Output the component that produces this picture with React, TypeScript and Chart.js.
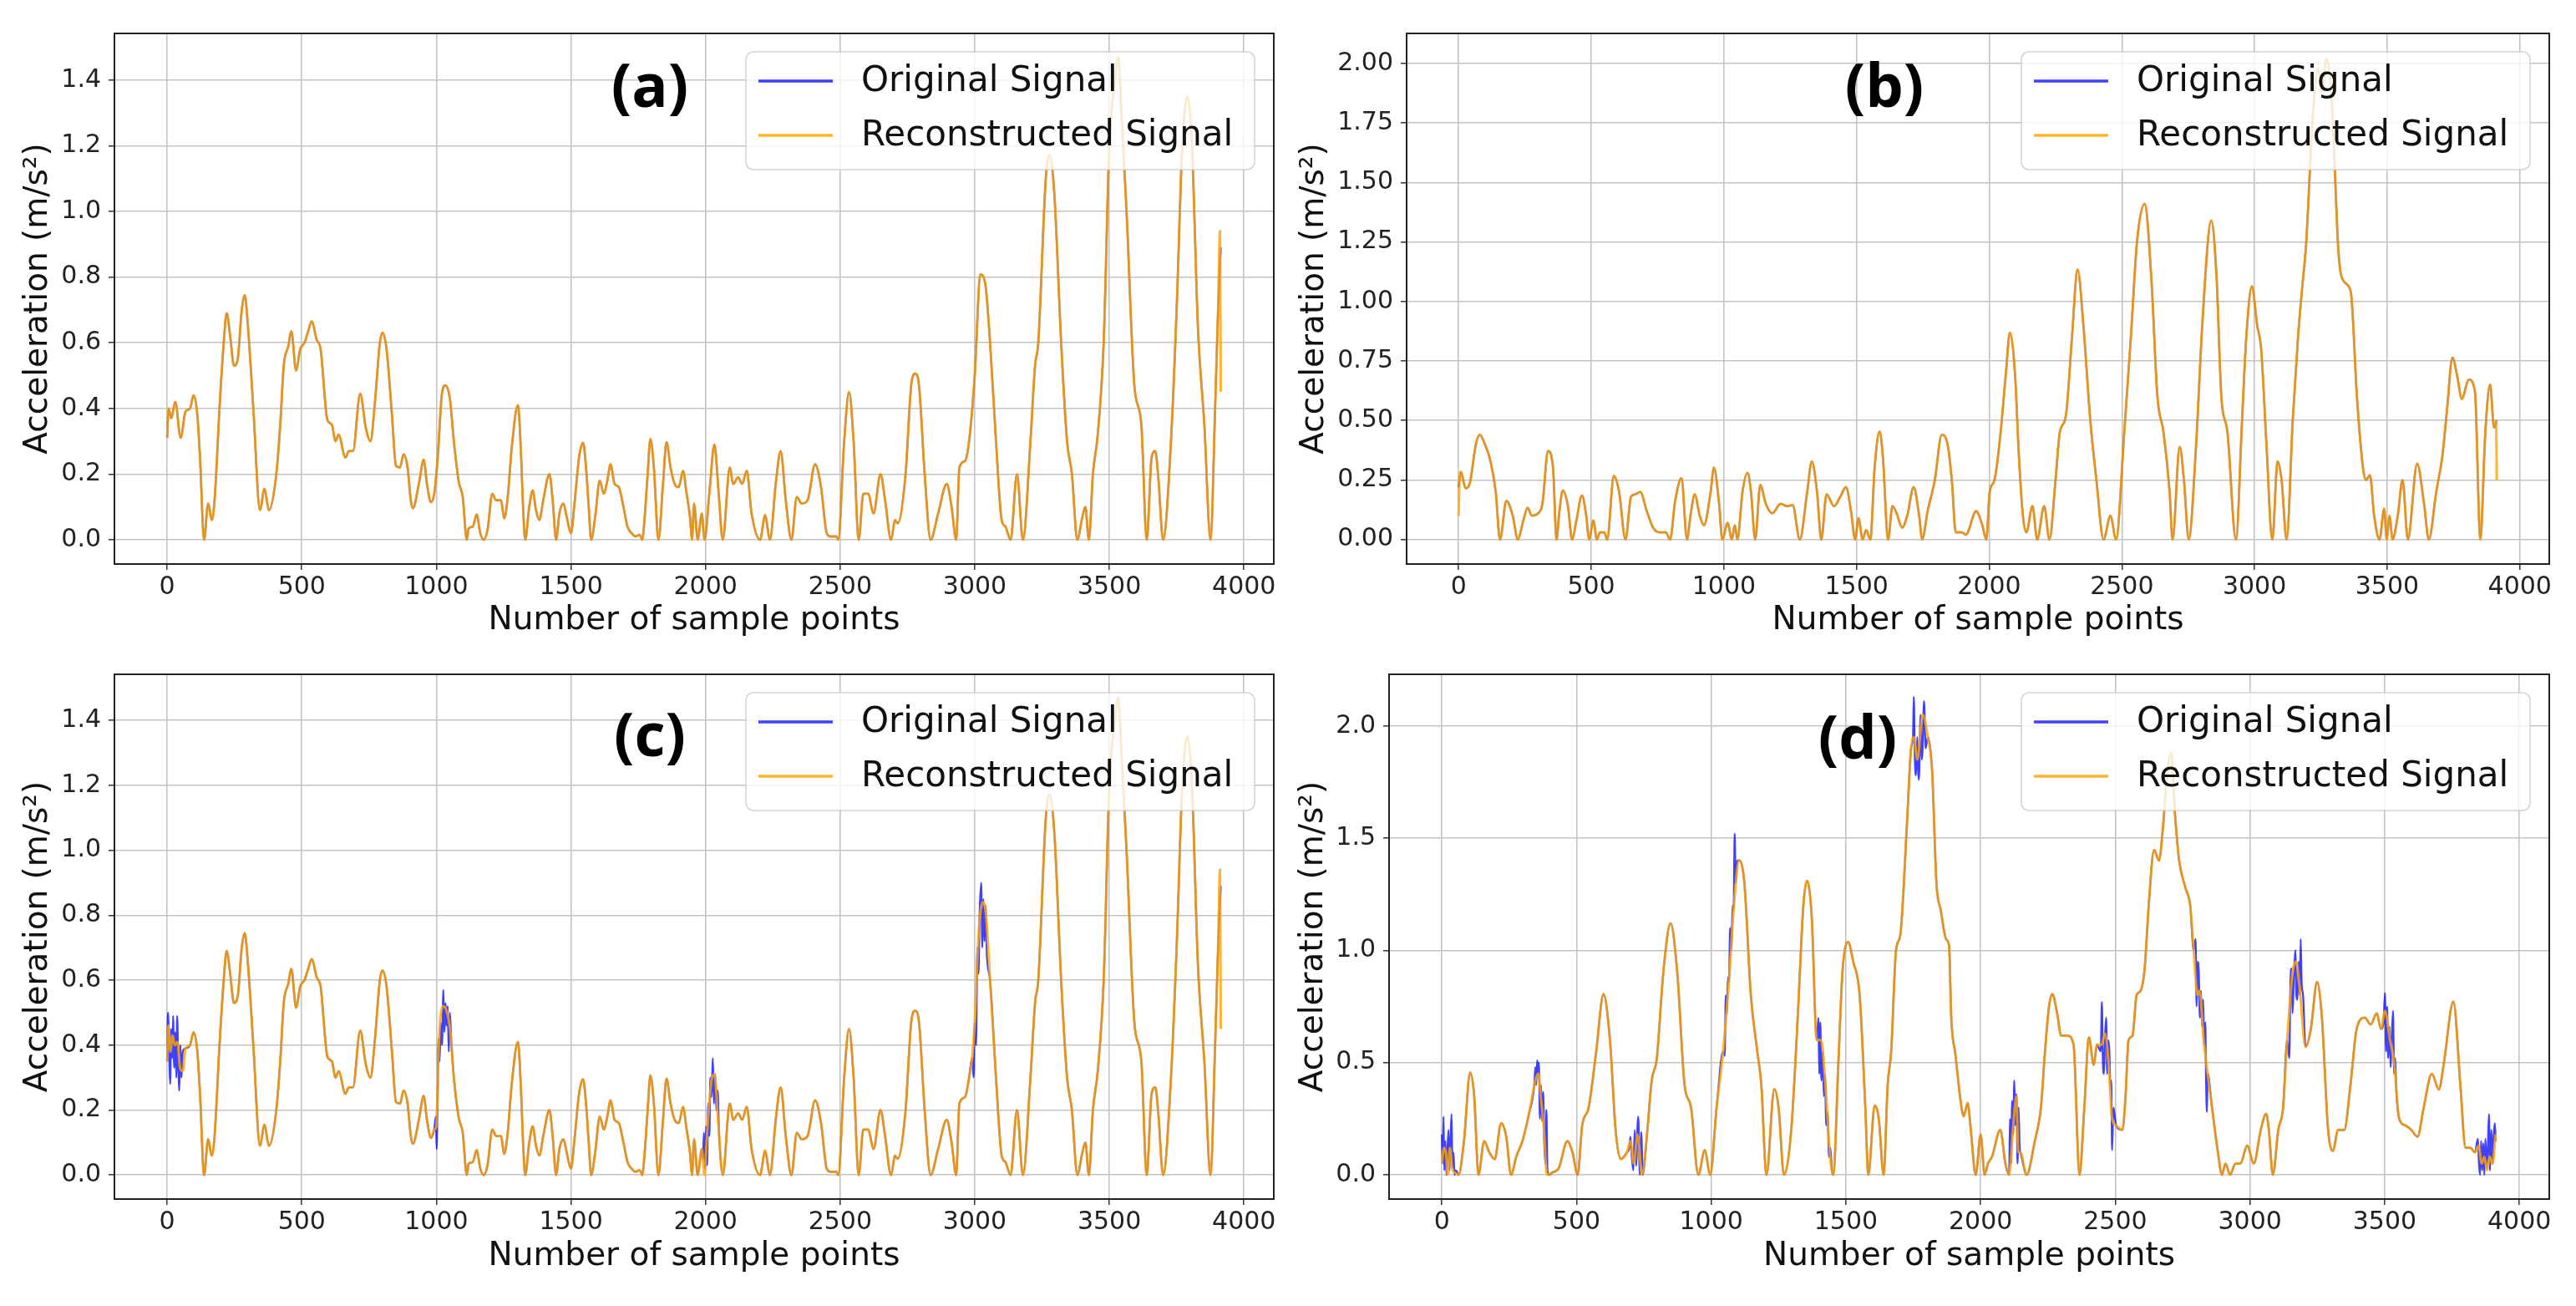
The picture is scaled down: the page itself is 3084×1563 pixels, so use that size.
import React, { useEffect, useRef } from 'react';
import { Chart, registerables } from 'chart.js';

Chart.register(...registerables);

type Pt = [number, number];

// ---------- axis tick labels ----------
const xTicks = [0, 500, 1000, 1500, 2000, 2500, 3000, 3500, 4000];
const yTicksAC = [0, 0.2, 0.4, 0.6, 0.8, 1.0, 1.2, 1.4];
const yTicksB = [0, 0.25, 0.5, 0.75, 1.0, 1.25, 1.5, 1.75, 2.0];
const yTicksD = [0, 0.5, 1.0, 1.5, 2.0];

const legendLabels = ['Original Signal', 'Reconstructed Signal'];
const panelLabels = ['(a)', '(b)', '(c)', '(d)'];

// ---------- panel (a): reconstructed signal (key points: sample index, acceleration) ----------
const signalA: Pt[] = [
  [0, 0.31], [5, 0.40], [15, 0.37], [30, 0.42], [50, 0.31], [68, 0.39], [85, 0.40], [98, 0.44], [112, 0.38], [122, 0.25],
  [137, 0.0], [152, 0.11], [166, 0.06], [176, 0.12], [195, 0.41], [210, 0.60], [221, 0.69], [234, 0.62], [248, 0.53], [262, 0.55],
  [277, 0.70], [288, 0.745], [300, 0.65], [320, 0.40], [345, 0.09], [361, 0.155], [378, 0.09], [404, 0.19], [420, 0.35], [433, 0.53],
  [450, 0.59], [461, 0.635], [479, 0.515], [494, 0.58], [510, 0.60], [522, 0.63], [537, 0.665], [555, 0.61], [570, 0.58], [595, 0.365],
  [612, 0.35], [625, 0.30], [637, 0.32], [662, 0.25], [675, 0.27], [690, 0.27], [717, 0.445], [738, 0.34], [755, 0.30], [772, 0.42],
  [790, 0.60], [800, 0.63], [815, 0.58], [835, 0.38], [850, 0.225], [865, 0.22], [878, 0.26], [893, 0.22], [905, 0.12], [913, 0.096],
  [935, 0.17], [953, 0.244], [965, 0.17], [980, 0.114], [992, 0.14], [1005, 0.25], [1020, 0.44], [1033, 0.47], [1050, 0.43], [1065, 0.30],
  [1083, 0.177], [1098, 0.13], [1113, 0.0], [1120, 0.035], [1135, 0.04], [1150, 0.077], [1163, 0.02], [1176, 0.0], [1190, 0.03], [1208, 0.14],
  [1222, 0.12], [1240, 0.12], [1252, 0.065], [1265, 0.13], [1280, 0.28], [1303, 0.41], [1315, 0.25], [1322, 0.10], [1330, 0.0], [1345, 0.10],
  [1358, 0.15], [1370, 0.09], [1383, 0.06], [1397, 0.12], [1420, 0.20], [1432, 0.12], [1445, 0.0], [1457, 0.08], [1472, 0.11], [1484, 0.07],
  [1500, 0.02], [1512, 0.10], [1530, 0.25], [1545, 0.295], [1556, 0.22], [1566, 0.10], [1575, 0.0], [1590, 0.07], [1607, 0.18], [1622, 0.14],
  [1635, 0.18], [1647, 0.23], [1662, 0.17], [1678, 0.16], [1695, 0.10], [1710, 0.04], [1725, 0.02], [1740, 0.01], [1755, 0.015], [1765, 0.0],
  [1773, 0.06], [1785, 0.20], [1795, 0.307], [1808, 0.22], [1825, 0.0], [1842, 0.17], [1855, 0.297], [1870, 0.22], [1885, 0.17], [1900, 0.16],
  [1917, 0.21], [1928, 0.15], [1942, 0.07], [1950, 0.0], [1957, 0.11], [1971, 0.0], [1986, 0.08], [1996, 0.0], [2015, 0.15], [2033, 0.29],
  [2048, 0.15], [2064, 0.0], [2090, 0.22], [2103, 0.17], [2121, 0.19], [2136, 0.17], [2153, 0.21], [2171, 0.08], [2203, 0.0], [2221, 0.075],
  [2239, 0.0], [2262, 0.18], [2279, 0.27], [2298, 0.12], [2319, 0.0], [2339, 0.13], [2357, 0.11], [2379, 0.12], [2407, 0.23], [2429, 0.16],
  [2450, 0.02], [2464, 0.01], [2486, 0.01], [2493, 0.0], [2515, 0.30], [2533, 0.45], [2550, 0.30], [2569, 0.0], [2586, 0.14], [2604, 0.14],
  [2624, 0.08], [2650, 0.20], [2667, 0.12], [2689, 0.0], [2704, 0.06], [2714, 0.05], [2743, 0.20], [2764, 0.47], [2779, 0.506], [2793, 0.47],
  [2814, 0.20], [2836, 0.0], [2864, 0.08], [2896, 0.17], [2914, 0.10], [2931, 0.0], [2943, 0.22], [2964, 0.24], [2979, 0.30], [3000, 0.50],
  [3021, 0.808], [3039, 0.78], [3057, 0.60], [3079, 0.30], [3100, 0.06], [3114, 0.04], [3133, 0.0], [3157, 0.20], [3179, 0.0], [3207, 0.30],
  [3224, 0.53], [3236, 0.60], [3264, 1.10], [3279, 1.172], [3296, 1.05], [3321, 0.60], [3343, 0.30], [3361, 0.20], [3381, 0.0], [3400, 0.07],
  [3411, 0.10], [3424, 0.0], [3439, 0.20], [3457, 0.32], [3479, 0.60], [3500, 1.20], [3521, 1.40], [3533, 1.47], [3545, 1.30], [3564, 1.00],
  [3593, 0.47], [3619, 0.35], [3639, 0.0], [3657, 0.25], [3671, 0.27], [3681, 0.20], [3700, 0.0], [3729, 0.30], [3750, 0.70], [3771, 1.20],
  [3790, 1.35], [3807, 1.20], [3829, 0.65], [3853, 0.35], [3876, 0.0], [3893, 0.40], [3904, 0.70], [3911, 0.94], [3914, 0.45],
];
const tailOriginalA: Pt[] = [[3904, 0.70], [3914, 0.89]];

// ---------- panel (b) ----------
const signalB: Pt[] = [
  [0, 0.10], [3, 0.24], [8, 0.284], [27, 0.215], [43, 0.24], [65, 0.40], [80, 0.44], [99, 0.40], [120, 0.33], [140, 0.20],
  [156, 0.0], [180, 0.162], [204, 0.10], [223, 0.0], [244, 0.08], [260, 0.133], [276, 0.10], [300, 0.11], [316, 0.15], [337, 0.372],
  [356, 0.30], [369, 0.0], [380, 0.12], [393, 0.206], [412, 0.14], [428, 0.0], [444, 0.08], [465, 0.185], [481, 0.10], [492, 0.0],
  [508, 0.08], [521, 0.0], [533, 0.03], [549, 0.03], [560, 0.0], [585, 0.267], [605, 0.20], [629, 0.0], [650, 0.18], [666, 0.19],
  [685, 0.20], [709, 0.12], [733, 0.05], [757, 0.03], [781, 0.03], [797, 0.0], [816, 0.16], [840, 0.258], [861, 0.0], [874, 0.10],
  [890, 0.19], [909, 0.10], [925, 0.06], [950, 0.20], [962, 0.302], [982, 0.15], [994, 0.0], [1014, 0.07], [1030, 0.0], [1041, 0.06],
  [1051, 0.0], [1070, 0.20], [1089, 0.28], [1102, 0.20], [1118, 0.0], [1137, 0.23], [1158, 0.15], [1182, 0.11], [1214, 0.15], [1238, 0.14],
  [1259, 0.145], [1286, 0.0], [1314, 0.20], [1331, 0.328], [1351, 0.20], [1367, 0.0], [1387, 0.19], [1415, 0.14], [1439, 0.18], [1460, 0.22],
  [1479, 0.12], [1495, 0.0], [1507, 0.09], [1523, 0.0], [1536, 0.04], [1552, 0.0], [1568, 0.30], [1587, 0.454], [1599, 0.35], [1619, 0.0],
  [1635, 0.14], [1651, 0.11], [1672, 0.05], [1691, 0.10], [1715, 0.22], [1736, 0.10], [1747, 0.0], [1768, 0.12], [1795, 0.25], [1821, 0.44],
  [1843, 0.40], [1859, 0.25], [1874, 0.03], [1897, 0.03], [1912, 0.02], [1951, 0.119], [1974, 0.06], [1989, 0.0], [2002, 0.20], [2020, 0.25],
  [2043, 0.45], [2063, 0.70], [2078, 0.869], [2097, 0.70], [2112, 0.35], [2127, 0.10], [2140, 0.03], [2163, 0.14], [2181, 0.0], [2207, 0.14],
  [2227, 0.0], [2250, 0.25], [2266, 0.45], [2289, 0.52], [2312, 0.85], [2333, 1.134], [2355, 0.90], [2381, 0.50], [2404, 0.25], [2431, 0.0],
  [2457, 0.10], [2478, 0.0], [2509, 0.45], [2534, 0.85], [2557, 1.25], [2586, 1.41], [2611, 1.10], [2634, 0.60], [2657, 0.45], [2680, 0.20],
  [2691, 0.0], [2718, 0.389], [2734, 0.25], [2752, 0.0], [2780, 0.40], [2803, 0.90], [2837, 1.34], [2857, 1.10], [2875, 0.60], [2898, 0.45],
  [2930, 0.0], [2953, 0.50], [2969, 0.85], [2990, 1.064], [3010, 0.90], [3025, 0.80], [3045, 0.40], [3067, 0.0], [3087, 0.328], [3102, 0.25],
  [3121, 0.0], [3144, 0.50], [3164, 0.85], [3179, 1.05], [3195, 1.25], [3218, 1.75], [3240, 1.98], [3252, 1.88], [3271, 2.02], [3291, 1.85],
  [3317, 1.20], [3340, 1.08], [3363, 1.04], [3386, 0.60], [3409, 0.30], [3420, 0.25], [3435, 0.27], [3451, 0.10], [3471, 0.0], [3489, 0.13],
  [3498, 0.0], [3509, 0.10], [3520, 0.0], [3540, 0.10], [3558, 0.25], [3578, 0.0], [3613, 0.319], [3639, 0.15], [3657, 0.0], [3685, 0.20],
  [3708, 0.35], [3726, 0.55], [3746, 0.764], [3765, 0.68], [3781, 0.59], [3808, 0.672], [3831, 0.62], [3851, 0.0], [3870, 0.45], [3888, 0.651],
  [3903, 0.47], [3911, 0.50], [3913, 0.25],
];
const headOriginalB: Pt[] = [[0, 0.22], [8, 0.284]];
const tailOriginalB: Pt[] = [[3903, 0.47], [3913, 0.50]];

// ---------- panel (c): same record as (a) with disturbed segments ----------
const noiseC0: Pt[] = [
  [0, 0.35], [3, 0.50], [7, 0.38], [11, 0.28], [15, 0.45], [19, 0.36], [22, 0.49], [26, 0.33], [30, 0.44], [34, 0.30],
  [37, 0.49], [41, 0.35], [45, 0.26], [49, 0.40], [53, 0.30], [58, 0.38], [68, 0.39],
];
const reconC0: Pt[] = [[0, 0.35], [5, 0.46], [12, 0.38], [20, 0.43], [28, 0.40], [38, 0.41], [48, 0.33], [58, 0.32], [68, 0.39]];
const noiseC1: Pt[] = [
  [992, 0.14], [998, 0.18], [1001, 0.08], [1004, 0.20], [1008, 0.42], [1012, 0.35], [1016, 0.47], [1021, 0.40], [1026, 0.57], [1030, 0.44],
  [1034, 0.53], [1038, 0.46], [1042, 0.52], [1046, 0.38], [1050, 0.50], [1056, 0.40], [1065, 0.30],
];
const reconC1: Pt[] = [[992, 0.14], [1000, 0.15], [1010, 0.42], [1025, 0.52], [1040, 0.50], [1052, 0.44], [1065, 0.30]];
const noiseC2: Pt[] = [
  [1990, 0.05], [1994, 0.13], [1998, 0.02], [2002, 0.15], [2006, 0.03], [2010, 0.22], [2014, 0.12], [2018, 0.30], [2022, 0.24], [2027, 0.36],
  [2031, 0.22], [2036, 0.31], [2040, 0.20], [2045, 0.26], [2050, 0.13],
];
const reconC2: Pt[] = [[1996, 0.0], [2005, 0.12], [2022, 0.29], [2033, 0.31], [2048, 0.15]];
const noiseC3: Pt[] = [
  [2990, 0.36], [2996, 0.30], [3000, 0.47], [3005, 0.40], [3010, 0.70], [3014, 0.62], [3018, 0.80], [3024, 0.90], [3028, 0.70], [3032, 0.85],
  [3036, 0.72], [3040, 0.83], [3045, 0.68], [3057, 0.60],
];
const reconC3: Pt[] = [[2990, 0.36], [3000, 0.47], [3015, 0.75], [3030, 0.84], [3042, 0.80], [3057, 0.60]];

// ---------- panel (d) ----------
const signalD: Pt[] = [
  [0, 0.05], [8, 0.12], [15, 0.10], [22, 0.0], [30, 0.12], [38, 0.03], [48, 0.01], [62, 0.0], [82, 0.15], [105, 0.456],
  [120, 0.35], [136, 0.0], [157, 0.15], [176, 0.10], [196, 0.07], [220, 0.23], [239, 0.17], [257, 0.0], [276, 0.08], [299, 0.15],
  [323, 0.27], [347, 0.42], [358, 0.45], [367, 0.35], [379, 0.20], [390, 0.0], [410, 0.01], [434, 0.03], [466, 0.15], [485, 0.10],
  [504, 0.0], [521, 0.22], [545, 0.30], [573, 0.55], [600, 0.805], [624, 0.60], [645, 0.20], [664, 0.07], [687, 0.10], [700, 0.15],
  [712, 0.05], [727, 0.18], [743, 0.0], [763, 0.20], [779, 0.42], [798, 0.52], [822, 0.90], [849, 1.121], [874, 0.90], [901, 0.40],
  [925, 0.30], [952, 0.0], [976, 0.11], [996, 0.0], [1020, 0.30], [1044, 0.55], [1068, 0.90], [1083, 1.18], [1104, 1.402], [1123, 1.30],
  [1147, 0.80], [1171, 0.55], [1186, 0.40], [1205, 0.0], [1234, 0.382], [1250, 0.30], [1270, 0.0], [1297, 0.20], [1321, 0.70], [1342, 1.20],
  [1356, 1.31], [1373, 1.15], [1392, 0.60], [1408, 0.60], [1424, 0.40], [1440, 0.10], [1453, 0.0], [1472, 0.50], [1487, 0.90], [1508, 1.038],
  [1527, 0.95], [1551, 0.80], [1572, 0.30], [1583, 0.0], [1607, 0.309], [1622, 0.25], [1640, 0.0], [1655, 0.40], [1668, 0.55], [1686, 1.00],
  [1702, 1.07], [1726, 1.55], [1742, 1.90], [1752, 1.95], [1765, 1.85], [1785, 2.05], [1804, 1.95], [1820, 1.80], [1836, 1.30], [1852, 1.18],
  [1872, 1.05], [1883, 1.02], [1891, 0.70], [1906, 0.54], [1929, 0.30], [1937, 0.26], [1952, 0.32], [1962, 0.22], [1982, 0.0], [2000, 0.18],
  [2015, 0.0], [2027, 0.05], [2042, 0.08], [2073, 0.20], [2092, 0.05], [2106, 0.0], [2120, 0.20], [2133, 0.35], [2140, 0.10], [2148, 0.10],
  [2171, 0.0], [2201, 0.15], [2224, 0.30], [2239, 0.55], [2254, 0.75], [2266, 0.805], [2284, 0.72], [2299, 0.62], [2322, 0.62], [2345, 0.58],
  [2367, 0.0], [2385, 0.30], [2402, 0.612], [2420, 0.49], [2432, 0.58], [2450, 0.58], [2461, 0.63], [2475, 0.50], [2488, 0.25], [2503, 0.22],
  [2526, 0.20], [2538, 0.35], [2549, 0.60], [2564, 0.62], [2579, 0.80], [2594, 0.82], [2609, 0.92], [2624, 1.20], [2644, 1.448], [2662, 1.40],
  [2677, 1.55], [2692, 1.78], [2707, 1.88], [2722, 1.60], [2737, 1.40], [2760, 1.28], [2778, 1.20], [2791, 1.00], [2805, 0.80], [2813, 0.82],
  [2828, 0.60], [2843, 0.45], [2859, 0.30], [2881, 0.10], [2896, 0.0], [2909, 0.05], [2926, 0.0], [2946, 0.05], [2964, 0.05], [2990, 0.13],
  [3014, 0.05], [3040, 0.20], [3060, 0.272], [3070, 0.20], [3085, 0.0], [3105, 0.20], [3123, 0.30], [3138, 0.60], [3158, 0.90], [3171, 0.95],
  [3183, 0.85], [3206, 0.57], [3226, 0.65], [3249, 0.86], [3267, 0.70], [3290, 0.20], [3308, 0.107], [3327, 0.20], [3350, 0.20], [3373, 0.40],
  [3396, 0.65], [3426, 0.70], [3448, 0.67], [3471, 0.72], [3486, 0.65], [3501, 0.73], [3520, 0.60], [3535, 0.50], [3554, 0.25], [3577, 0.22],
  [3599, 0.20], [3622, 0.17], [3645, 0.30], [3675, 0.45], [3701, 0.38], [3720, 0.50], [3755, 0.772], [3781, 0.40], [3800, 0.12], [3818, 0.12],
  [3835, 0.10], [3849, 0.13], [3860, 0.05], [3870, 0.08], [3880, 0.02], [3890, 0.08], [3900, 0.05], [3912, 0.18],
];
const noiseD0: Pt[] = [[0, 0.18], [3, 0.05], [6, 0.26], [9, 0.02], [13, 0.15], [17, 0.0], [21, 0.12], [25, 0.20], [28, 0.02], [32, 0.14], [36, 0.27], [39, 0.03], [43, 0.10], [47, 0.0], [52, 0.02]];
const noiseD1: Pt[] = [[343, 0.40], [347, 0.48], [350, 0.40], [354, 0.51], [357, 0.44], [360, 0.50], [364, 0.25], [368, 0.40], [372, 0.24], [376, 0.37], [380, 0.15], [384, 0.05], [388, 0.29], [392, 0.02], [398, 0.0]];
const noiseD2: Pt[] = [[696, 0.12], [700, 0.17], [705, 0.08], [711, 0.02], [716, 0.20], [722, 0.04], [726, 0.21], [729, 0.26], [735, 0.0], [740, 0.19], [746, 0.0], [752, 0.05]];
const noiseD3: Pt[] = [[1044, 0.55], [1050, 0.53], [1054, 0.80], [1058, 0.72], [1062, 0.88], [1066, 0.86], [1070, 1.10], [1075, 1.00], [1079, 1.20], [1083, 1.18], [1087, 1.52], [1091, 1.30], [1096, 1.40], [1104, 1.40]];
const noiseD4: Pt[] = [[1392, 0.60], [1398, 0.70], [1401, 0.45], [1405, 0.68], [1409, 0.42], [1414, 0.55], [1418, 0.35], [1422, 0.45], [1427, 0.22], [1432, 0.28], [1437, 0.08], [1442, 0.12], [1448, 0.02], [1453, 0.0]];
const noiseD5: Pt[] = [[1742, 1.90], [1749, 1.95], [1752, 2.13], [1756, 1.85], [1760, 1.78], [1765, 1.95], [1768, 1.80], [1771, 1.76], [1777, 2.05], [1781, 1.85], [1784, 1.88], [1790, 2.11], [1796, 1.90], [1804, 1.95]];
const noiseD6: Pt[] = [[2106, 0.0], [2109, 0.25], [2113, 0.05], [2117, 0.33], [2121, 0.18], [2125, 0.42], [2129, 0.22], [2133, 0.36], [2137, 0.05], [2141, 0.30], [2145, 0.12], [2148, 0.10]];
const noiseD7: Pt[] = [[2432, 0.58], [2446, 0.55], [2450, 0.77], [2454, 0.50], [2458, 0.45], [2462, 0.62], [2466, 0.70], [2470, 0.45], [2474, 0.60], [2478, 0.55], [2482, 0.38], [2485, 0.42], [2488, 0.11], [2493, 0.30], [2503, 0.22]];
const noiseD8: Pt[] = [[2791, 1.00], [2798, 1.05], [2802, 0.75], [2806, 0.95], [2810, 0.90], [2814, 0.70], [2818, 0.82], [2822, 0.66], [2826, 0.78], [2830, 0.58], [2834, 0.68], [2837, 0.42], [2840, 0.28], [2843, 0.45], [2859, 0.30]];
const noiseD9: Pt[] = [[3138, 0.60], [3146, 0.52], [3150, 0.85], [3154, 0.92], [3158, 0.72], [3163, 0.88], [3169, 1.00], [3172, 0.80], [3176, 0.78], [3181, 0.95], [3185, 0.80], [3188, 1.05], [3192, 0.85], [3197, 0.80], [3206, 0.57]];
const noiseD10: Pt[] = [[3486, 0.65], [3496, 0.68], [3501, 0.81], [3505, 0.55], [3509, 0.75], [3513, 0.52], [3518, 0.66], [3522, 0.48], [3526, 0.60], [3531, 0.73], [3535, 0.45], [3539, 0.52], [3543, 0.38], [3554, 0.25]];
const noiseD11: Pt[] = [[3835, 0.10], [3846, 0.16], [3850, 0.05], [3854, 0.0], [3858, 0.15], [3862, 0.02], [3866, 0.14], [3870, 0.0], [3874, 0.16], [3879, 0.03], [3883, 0.12], [3887, 0.27], [3891, 0.02], [3896, 0.20], [3901, 0.05], [3905, 0.18], [3909, 0.23], [3912, 0.15]];

// replace the key points of a base record inside each segment's x-range by that segment
function patch(base: Pt[], segs: Pt[][]): Pt[] {
  let out = base.slice();
  for (const seg of segs) {
    const lo = seg[0][0];
    const hi = seg[seg.length - 1][0];
    out = out.filter((p) => p[0] < lo || p[0] > hi).concat(seg);
  }
  return out.sort((a, b) => a[0] - b[0]);
}

const originalA = patch(signalA, [tailOriginalA]);
const originalB = patch(signalB, [headOriginalB, tailOriginalB]);
const reconC = patch(signalA, [reconC0, reconC1, reconC2, reconC3]);
const originalC = patch(signalA, [noiseC0, noiseC1, noiseC2, noiseC3, tailOriginalA]);
const originalD = patch(signalD, [noiseD0, noiseD1, noiseD2, noiseD3, noiseD4, noiseD5, noiseD6, noiseD7, noiseD8, noiseD9, noiseD10, noiseD11]);

const BLUE = 'rgba(0,0,255,0.75)';
const ORANGE = 'rgba(255,165,0,0.82)';
const FONT = "'DejaVu Sans', 'Liberation Sans', sans-serif";

type PanelCfg = {
  left: number; top: number; w: number; h: number;
  padTop: number; padRight: number; yWidth: number; xHeight: number;
  yMin: number; yMax: number; yTicks: number[]; dec: number;
  yTitlePad: number; xTitlePad: number;
  label: string; labelX: number; labelY: number;
  original: Pt[]; recon: Pt[];
};

const panels: PanelCfg[] = [
  { left: 0, top: 0, w: 1545, h: 780, padTop: 40, padRight: 20, yWidth: 137, xHeight: 105, yMin: -0.074, yMax: 1.542, yTicks: yTicksAC, dec: 1, yTitlePad: 22, xTitlePad: 14, label: panelLabels[0], labelX: 778, labelY: 107, original: originalA, recon: signalA },
  { left: 1545, top: 0, w: 1539, h: 780, padTop: 40, padRight: 32, yWidth: 139, xHeight: 105, yMin: -0.103, yMax: 2.126, yTicks: yTicksB, dec: 2, yTitlePad: 5, xTitlePad: 14, label: panelLabels[1], labelX: 2256 - 1545, labelY: 107, original: originalB, recon: signalB },
  { left: 0, top: 780, w: 1545, h: 783, padTop: 20, padRight: 20, yWidth: 137, xHeight: 128, yMin: -0.074, yMax: 1.542, yTicks: yTicksAC, dec: 1, yTitlePad: 22, xTitlePad: 36, label: panelLabels[2], labelX: 778, labelY: 884 - 780, original: originalC, recon: reconC },
  { left: 1545, top: 780, w: 1539, h: 783, padTop: 20, padRight: 32, yWidth: 118, xHeight: 128, yMin: -0.108, yMax: 2.23, yTicks: yTicksD, dec: 1, yTitlePad: 4, xTitlePad: 36, label: panelLabels[3], labelX: 2224 - 1545, labelY: 887 - 780, original: originalD, recon: signalD },
];

function makeDecor(cfg: PanelCfg) {
  return {
    id: 'decor',
    afterDraw(chart: any) {
      const { ctx, chartArea: ca } = chart;
      ctx.save();
      // frame (top & right spines)
      ctx.strokeStyle = '#222';
      ctx.lineWidth = 2;
      ctx.strokeRect(ca.left, ca.top, ca.right - ca.left, ca.bottom - ca.top);
      // legend
      const w = 609, h = 141;
      const x0 = ca.right - 23 - w;
      const y0 = ca.top + 22;
      ctx.beginPath();
      (ctx as any).roundRect(x0, y0, w, h, 9);
      ctx.fillStyle = 'rgba(255,255,255,0.8)';
      ctx.fill();
      ctx.strokeStyle = 'rgba(200,200,200,0.8)';
      ctx.lineWidth = 1.5;
      ctx.stroke();
      const colors = [BLUE, ORANGE];
      legendLabels.forEach((t, i) => {
        const ly = y0 + 35 + i * 65;
        ctx.strokeStyle = colors[i];
        ctx.lineWidth = 3.5;
        ctx.beginPath();
        ctx.moveTo(x0 + 15, ly);
        ctx.lineTo(x0 + 104, ly);
        ctx.stroke();
        ctx.fillStyle = '#111';
        ctx.font = `42px ${FONT}`;
        ctx.textAlign = 'left';
        ctx.textBaseline = 'middle';
        ctx.fillText(t, x0 + 138, ly + 1);
      });
      // panel label
      ctx.fillStyle = '#000';
      ctx.font = `bold 72px 'Open Sans', 'Liberation Sans', sans-serif`;
      ctx.textAlign = 'center';
      ctx.textBaseline = 'middle';
      ctx.fillText(cfg.label, cfg.labelX, cfg.labelY);
      ctx.restore();
    },
  };
}

function Panel({ cfg }: { cfg: PanelCfg }) {
  const ref = useRef<HTMLCanvasElement>(null);
  useEffect(() => {
    const canvas = ref.current!;
    const toXY = (pts: Pt[]) => pts.map(([x, y]) => ({ x, y }));
    const chart = new Chart(canvas, {
      type: 'line',
      data: {
        datasets: [
          { label: legendLabels[0], data: toXY(cfg.original), borderColor: BLUE, borderWidth: 2.3, pointRadius: 0, cubicInterpolationMode: 'monotone', order: 2 },
          { label: legendLabels[1], data: toXY(cfg.recon), borderColor: ORANGE, borderWidth: 3, pointRadius: 0, cubicInterpolationMode: 'monotone', order: 1 },
        ],
      },
      options: {
        animation: false,
        responsive: false,
        devicePixelRatio: 1,
        events: [],
        layout: { padding: { top: cfg.padTop, right: cfg.padRight, left: 0, bottom: 0 } },
        plugins: { legend: { display: false }, tooltip: { enabled: false }, title: { display: false } },
        scales: {
          x: {
            type: 'linear',
            min: -196,
            max: 4111,
            afterBuildTicks: (s: any) => { s.ticks = xTicks.map((v) => ({ value: v })); },
            afterFit: (s: any) => { s.height = cfg.xHeight; },
            ticks: { callback: (v: any) => String(v), font: { size: 30, family: FONT }, color: '#222', padding: 3, maxRotation: 0, autoSkip: false },
            grid: { color: '#c4c4c4', lineWidth: 1.6, tickLength: 7, tickColor: '#333', tickWidth: 1.5 },
            border: { display: true, color: '#222', width: 2 },
            title: { display: true, text: 'Number of sample points', font: { size: 39, family: FONT }, color: '#111', padding: { top: 0, bottom: cfg.xTitlePad } },
          },
          y: {
            type: 'linear',
            min: cfg.yMin,
            max: cfg.yMax,
            afterBuildTicks: (s: any) => { s.ticks = cfg.yTicks.map((v) => ({ value: v })); },
            afterFit: (s: any) => { s.width = cfg.yWidth; },
            ticks: { callback: (v: any) => Number(v).toFixed(cfg.dec), font: { size: 30, family: FONT }, color: '#222', padding: 9, autoSkip: false },
            grid: { color: '#c4c4c4', lineWidth: 1.6, tickLength: 7, tickColor: '#333', tickWidth: 1.5 },
            border: { display: true, color: '#222', width: 2 },
            title: { display: true, text: 'Acceleration (m/s²)', font: { size: 39, family: FONT }, color: '#111', padding: { top: cfg.yTitlePad, bottom: 0 } },
          },
        },
      },
      plugins: [makeDecor(cfg)],
    } as any);
    return () => chart.destroy();
  }, [cfg]);
  return (
    <canvas
      ref={ref}
      width={cfg.w}
      height={cfg.h}
      style={{ position: 'absolute', left: cfg.left, top: cfg.top, width: cfg.w, height: cfg.h }}
    />
  );
}

export default function App() {
  return (
    <div style={{ position: 'absolute', left: 0, top: 0, width: 3084, height: 1563, background: '#fff', overflow: 'hidden' }}>
      {panels.map((p, i) => (
        <Panel key={i} cfg={p} />
      ))}
    </div>
  );
}
